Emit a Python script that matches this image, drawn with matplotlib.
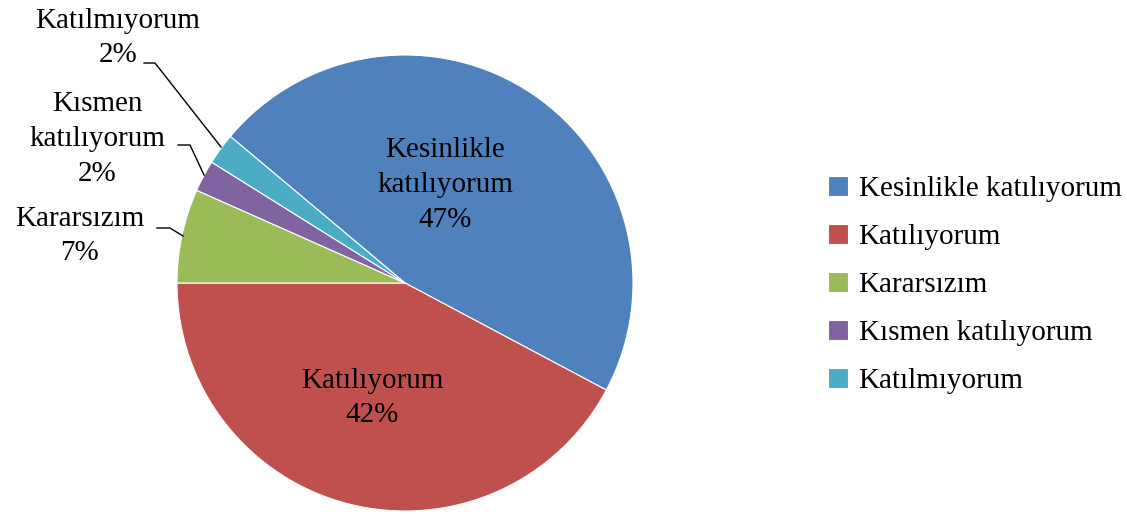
import matplotlib.pyplot as plt

# survey answers (45 respondents)
labels = ['Kesinlikle katılıyorum', 'Katılıyorum', 'Kararsızım',
          'Kısmen katılıyorum', 'Katılmıyorum']
counts = [21, 19, 3, 1, 1]
colors = ['#4F81BD', '#C0504D', '#9BBB59', '#8064A2', '#4BACC6']

W, H = 1127, 515
fig = plt.figure(figsize=(W / 100, H / 100), dpi=100)
ax = fig.add_axes([0, 0, 1, 1])

plt.rcParams['font.family'] = ['Liberation Serif', 'DejaVu Serif']
fs = 21
ls = 1.45

cx, cy, r = 405, H - 283, 228
wedges, _ = ax.pie(counts, colors=colors, startangle=140, counterclock=False,
                   center=(cx, cy), radius=r, frame=True,
                   wedgeprops=dict(edgecolor='white', linewidth=0.8))
ax.set_xlim(0, W)
ax.set_ylim(0, H)
ax.set_aspect('equal')
ax.axis('off')

total = sum(counts)
pct = [f'{round(c / total * 100)}%' for c in counts]

# labels inside the two big slices
ax.text(445, H - 185, 'Kesinlikle\nkatılıyorum\n' + pct[0], ha='center', va='center',
        fontsize=fs, linespacing=ls)
ax.text(372, H - 398, labels[1] + '\n' + pct[1], ha='center', va='center',
        fontsize=fs, linespacing=ls)

# outside labels with leader lines
ax.text(118, H - 38, labels[4] + '\n' + pct[4], ha='center', va='center',
        fontsize=fs, linespacing=ls)
ax.plot([144, 155, 221], [H - 63, H - 63, H - 147], color='black', lw=1)

ax.text(97, H - 139, 'Kısmen\nkatılıyorum\n' + pct[3], ha='center', va='center',
        fontsize=fs, linespacing=ls)
ax.plot([178, 190, 204], [H - 145, H - 145, H - 175], color='black', lw=1)

ax.text(80, H - 236, labels[2] + '\n' + pct[2], ha='center', va='center',
        fontsize=fs, linespacing=ls)
ax.plot([157, 170, 183], [H - 228, H - 228, H - 236], color='black', lw=1)

leg = ax.legend(wedges, labels, loc='upper left', bbox_to_anchor=(828 / W, 1 - 176 / H),
                frameon=False, fontsize=fs, handlelength=0.7, handleheight=0.7,
                handletextpad=0.35, labelspacing=0.74, borderpad=0, borderaxespad=0)

fig.savefig('out.png', dpi=100)
